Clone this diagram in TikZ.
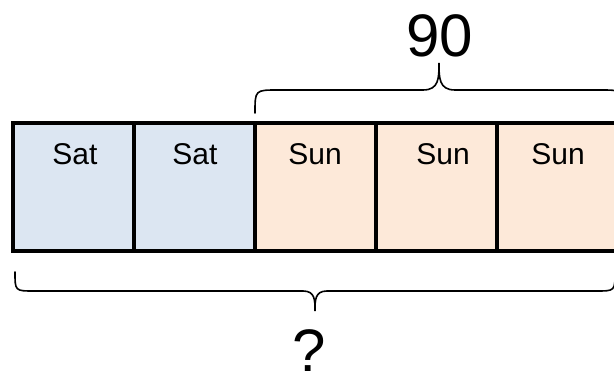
\documentclass[tikz,border=0pt]{standalone}
\usepackage{fontspec}
\setmainfont{Liberation Sans}
\definecolor{satblue}{RGB}{220,230,242}
\definecolor{sunorange}{RGB}{253,233,217}
\tikzset{
  daybox/.style={draw=black, line width=4pt, minimum width=121pt, minimum height=127.5pt, inner sep=0pt, outer sep=0pt},
  daylabel/.style={anchor=base, inner sep=0pt, font=\fontsize{30}{36}\selectfont},
  biglabel/.style={anchor=base, inner sep=0pt, text depth=0pt, font=\fontsize{60}{72}\selectfont},
  bracepath/.style={draw=black, line width=1.6pt, line cap=round}
}
\begin{document}
\begin{tikzpicture}[x=1pt,y=1pt]
\useasboundingbox (0,0) rectangle (614,378);
\node[daybox, fill=satblue]    (b1) at (73.5,190.75) {};
\node[daybox, fill=satblue]    (b2) at (194.5,190.75) {};
\node[daybox, fill=sunorange]  (b3) at (315.5,190.75) {};
\node[daybox, fill=sunorange]  (b4) at (436.5,190.75) {};
\node[daybox, fill=sunorange]  (b5) at (557.5,190.75) {};
\node[daylabel] (t1) at (75,213) {Sat};
\node[daylabel] (t2) at (195,213) {Sat};
\node[daylabel] (t3) at (315,213) {Sun};
\node[daylabel] (t4) at (443,213) {Sun};
\node[daylabel] (t5) at (558,213) {Sun};
% top brace
\draw[bracepath] (255,265) .. controls (255,288) .. (278,288) -- (423,288)
  .. controls (439,288) and (439,300) .. (439,315)
  .. controls (439,300) and (439,288) .. (455,288) -- (600,288)
  .. controls (623,288) .. (623,265);
\node[biglabel] (n90) at (440,321) {90};
% bottom brace
\draw[bracepath] (15,106) .. controls (15,87) .. (34,87) -- (303,87)
  .. controls (315,87) and (315,78) .. (315,67)
  .. controls (315,78) and (315,87) .. (327,87) -- (596,87)
  .. controls (615,87) .. (615,106);
\node[biglabel] (q) at (309,6) {?};
\end{tikzpicture}
\end{document}
